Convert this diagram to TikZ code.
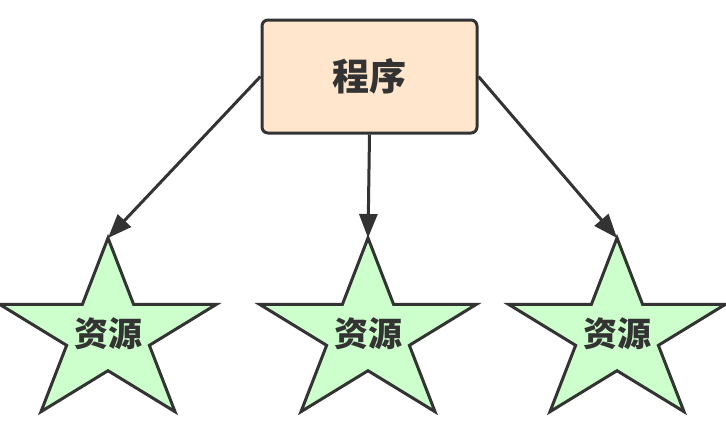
\documentclass[tikz,border=0pt]{standalone}
\usepackage{fontspec}
\newfontfamily\cjk{Noto Sans CJK SC}
\usetikzlibrary{arrows.meta}
\definecolor{ln}{HTML}{333333}
\definecolor{boxf}{HTML}{FFE6CC}
\definecolor{starf}{HTML}{CCFFCC}
\tikzset{
  box/.style={draw=ln,line width=3pt,fill=boxf,rounded corners=6pt,minimum width=215pt,minimum height=113pt,inner sep=0pt},
  starshape/.style={draw=ln,line width=3pt,fill=starf,line join=miter},
  conn/.style={draw=ln,line width=3pt,-{Triangle[length=24pt,width=18pt]}},
  lbl/.style={text=ln,font=\cjk\bfseries\fontsize{34}{40}\selectfont}
}
\begin{document}
\begin{tikzpicture}[x=1pt,y=-1pt]
\useasboundingbox (0,0) rectangle (726,447);
\node[box,lbl,font=\cjk\bfseries\fontsize{37}{44}\selectfont] (p) at (369.5,76.5) {程序};
\foreach \n/\cx in {a/108,b/368,c/617}{
  \begin{scope}[shift={(\cx,334)}]
    \draw[starshape] (270:114 and 96) -- (306:43.5 and 36.7) -- (342:114 and 96) -- (18:43.5 and 36.7) -- (54:114 and 96) -- (90:43.5 and 36.7) -- (126:114 and 96) -- (162:43.5 and 36.7) -- (198:114 and 96) -- (234:43.5 and 36.7) -- cycle;
    \coordinate (\n) at (270:114 and 96);
    \node[lbl] (t\n) at (0,0) {资源};
  \end{scope}
}
\draw[conn] (p.west) ++(0,0) -- (a);
\draw[conn] (p.south) -- (b);
\draw[conn] (p.east) -- (c);
\end{tikzpicture}
\end{document}
